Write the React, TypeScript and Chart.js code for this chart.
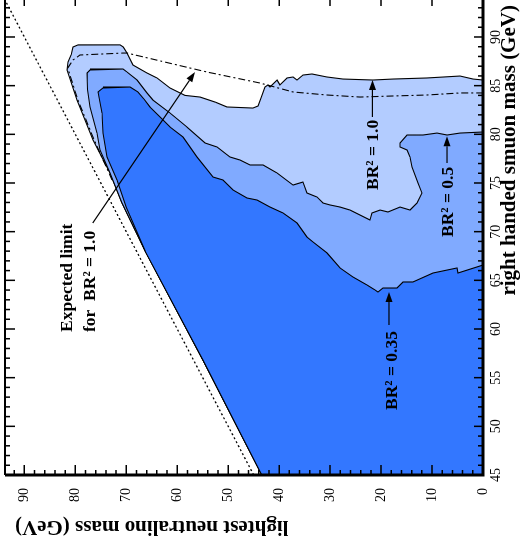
import React, { useEffect, useRef } from "react";
import { Chart, registerables } from "chart.js";

Chart.register(...registerables);

// Axis ticks (labels)
const smuonTickLabels = [45, 50, 55, 60, 65, 70, 75, 80, 85, 90];
const neutralinoTickLabels = [0, 10, 20, 30, 40, 50, 60, 70, 80, 90];
const smuonRange = [45, 93.8];
const neutralinoRange = [0, 93.8];

// Regions: [right handed smuon mass, lightest neutralino mass] (GeV)
const lightRegion: [number, number][] = [
  [45, 0], [45, 43.4], [56.8, 54.95], [68, 66.3], [73, 70.9], [76.03, 73.19], [79.42, 76.53],
  [83.52, 79.67], [86.61, 81.63], [87.43, 81.44], [88.2, 80.8], [88.97, 80.46],
  [89.18, 79.5], [89.2, 75.2], [89.18, 71.23], [88.97, 70.6], [88.35, 69.86],
  [87.12, 68.68], [86.3, 65.93], [85.79, 63.97], [84.76, 61.42], [84.0, 58.5],
  [83.83, 55.53], [83.3, 52.5], [82.81, 50.24], [82.7, 45.13], [82.91, 44.15],
  [83.73, 43.56], [84.86, 42.78], [85.07, 42.19], [84.86, 41.8], [85.58, 40.42],
  [85.07, 39.84], [85.79, 38.46], [85.89, 37.28], [85.58, 36.5], [86.09, 35.32],
  [86.2, 33.56], [85.89, 30.61], [85.68, 27.47], [85.58, 21.59], [85.68, 17.66],
  [85.79, 10.99], [85.99, 4.51], [85.68, 1.96], [85.58, 0],
];

const mediumRegion: [number, number][] = [
  [45, 0], [45, 43.4], [56.8, 54.95], [68, 66.3], [73, 70.9], [76.03, 73.19], [78.39, 75.16],
  [80.13, 75.75], [82.81, 77.12], [84.6, 77.6], [86.3, 77.71], [86.61, 77.12],
  [86.71, 75.16], [86.71, 70.64], [86.4, 69.86], [85.58, 67.9], [84.25, 65.93],
  [83.52, 64.76], [82.19, 61.42], [80.75, 58.09], [79.11, 54.55], [78.7, 52.2],
  [77.67, 49.65], [77.36, 47.68], [76.85, 45.72], [76.85, 43.17], [76.03, 40.42],
  [74.79, 37.28], [75.1, 35.32], [73.97, 34.54], [73.56, 32.57], [72.94, 31.4],
  [72.74, 30.02], [72.53, 28.06], [72.22, 26.1], [71.2, 22.17], [71.92, 21.78],
  [72.22, 20.21], [72.02, 18.64], [72.53, 16.29], [72.22, 14.33], [72.94, 12.95],
  [73.97, 11.97], [75.0, 12.76], [76.64, 13.93], [77.67, 14.33], [78.39, 14.91],
  [78.7, 16.29], [79.11, 16.29], [79.93, 14.91], [79.93, 11.77], [80.13, 9.03],
  [79.93, 7.06], [80.13, 4.51], [80.24, 0],
];

const darkRegion: [number, number][] = [
  [45, 0], [45, 43.4], [56.8, 54.95], [68, 66.3], [72.5, 70.0], [75.31, 71.82], [77.67, 73.78],
  [80.13, 74.57], [82.19, 74.76], [84.35, 75.55], [84.76, 74.57], [84.86, 72.0],
  [84.86, 69.27], [84.35, 67.7], [83.6, 66.5], [82.81, 65.35], [81.47, 62.79],
  [80.75, 61.42], [79.72, 58.87], [77.67, 56.12], [75.61, 52.98], [75.31, 51.02],
  [74.28, 49.06], [73.46, 46.31], [73.25, 44.35], [72.53, 41.8], [71.92, 39.25],
  [70.89, 36.5], [69.45, 34.54], [68.94, 33.36], [67.81, 30.61], [66.27, 28.06],
  [65.34, 25.51], [64.52, 22.76], [64.01, 21.19], [63.8, 20.6], [64.21, 19.62],
  [64.21, 18.25], [64.21, 16.88], [64.83, 15.7], [64.83, 13.74], [65.75, 9.81],
  [66.27, 5.1], [65.75, 4.91], [66.57, 0],
];

const expectedLimit: [number, number][] = [
  [75.31, 72.8], [79.42, 76.3], [83.52, 79.5], [86.81, 81.5], [87.63, 80.46],
  [88.15, 79.08], [88.35, 70.64], [88.35, 69.86], [86.4, 54.16], [85.27, 43.76],
  [84.35, 37.28], [84.04, 30.61], [83.83, 24.14], [83.94, 17.66], [84.04, 10.99],
  [84.25, 4.51], [84.25, 0],
];

const kinematicLimit: [number, number][] = [
  [45, 45], [93.8, 93.8],
];

// Annotations (data coordinates)
const annotationTexts = [
  { text: "Expected limit", s: 59.69, n: 80.65 },
  { text: "for  BR\u00b2 = 1.0", s: 59.69, n: 76.14 },
  { text: "BR\u00b2 = 1.0", s: 74.28, n: 20.6 },
  { text: "BR\u00b2 = 0.5", s: 69.45, n: 5.89 },
  { text: "BR\u00b2 = 0.35", s: 51.68, n: 16.9 },
];
const annotationArrows = [
  { from: [70.89, 76.6], to: [86.4, 56.5] },
  { from: [81.78, 21.7], to: [85.58, 21.7] },
  { from: [77.05, 7.06], to: [79.8, 7.06] },
  { from: [60.41, 18.45], to: [63.8, 18.45] },
];

const smuonTitle = "right handed smuon mass (GeV)";
const neutralinoTitle = "lightest neutralino mass (GeV)";

const SERIF = '"Liberation Serif", "Times New Roman", serif';

const toXY = (arr: [number, number][]) => arr.map(([x, y]) => ({ x, y }));

const decorPlugin = {
  id: "decor",
  afterDraw(chart: any) {
    const { ctx, chartArea: a, scales } = chart;
    const x = scales.x;
    const y = scales.y;
    ctx.save();
    ctx.strokeStyle = "#000";
    ctx.fillStyle = "#000";

    // ticks
    ctx.lineWidth = 1.5;
    ctx.beginPath();
    for (let v = 45; v <= 93; v += 1) {
      const px = x.getPixelForValue(v);
      const major = v % 5 === 0;
      ctx.moveTo(px, a.bottom);
      ctx.lineTo(px, a.bottom - (major ? 9 : 5));
      ctx.moveTo(px, a.top);
      ctx.lineTo(px, a.top + (major ? 10 : 5));
    }
    for (let v = 0; v <= 92; v += 2) {
      const py = y.getPixelForValue(v);
      const major = v % 10 === 0;
      ctx.moveTo(a.left, py);
      ctx.lineTo(a.left + (major ? 10 : 5), py);
      if (major) {
        ctx.moveTo(a.right, py);
        ctx.lineTo(a.right - 6, py);
      }
    }
    ctx.stroke();

    // frame
    ctx.lineWidth = 3;
    ctx.beginPath();
    ctx.moveTo(a.left, a.top);
    ctx.lineTo(a.left, a.bottom);
    ctx.lineTo(a.right, a.bottom);
    ctx.stroke();
    ctx.lineWidth = 2;
    ctx.beginPath();
    ctx.moveTo(a.left, a.top);
    ctx.lineTo(a.right, a.top);
    ctx.stroke();

    // annotations text
    ctx.font = `bold 17.5px ${SERIF}`;
    ctx.textAlign = "left";
    ctx.textBaseline = "alphabetic";
    for (const t of annotationTexts) {
      ctx.fillText(t.text, x.getPixelForValue(t.s), y.getPixelForValue(t.n));
    }

    // arrows
    ctx.lineWidth = 1.2;
    for (const ar of annotationArrows) {
      const x1 = x.getPixelForValue(ar.from[0]);
      const y1 = y.getPixelForValue(ar.from[1]);
      const x2 = x.getPixelForValue(ar.to[0]);
      const y2 = y.getPixelForValue(ar.to[1]);
      const ang = Math.atan2(y2 - y1, x2 - x1);
      const hl = 10;
      const hw = 3.5;
      const bx = x2 - hl * Math.cos(ang);
      const by = y2 - hl * Math.sin(ang);
      ctx.beginPath();
      ctx.moveTo(x1, y1);
      ctx.lineTo(bx, by);
      ctx.stroke();
      ctx.beginPath();
      ctx.moveTo(x2, y2);
      ctx.lineTo(bx + hw * Math.sin(ang), by - hw * Math.cos(ang));
      ctx.lineTo(bx - hw * Math.sin(ang), by + hw * Math.cos(ang));
      ctx.closePath();
      ctx.fill();
    }

    // axis titles
    ctx.font = `bold 21px ${SERIF}`;
    ctx.textAlign = "right";
    ctx.textBaseline = "alphabetic";
    ctx.fillText(smuonTitle, x.getPixelForValue(93.28), a.bottom + 32);

    ctx.save();
    ctx.translate(a.left - 46, y.getPixelForValue(91.84));
    ctx.rotate(-Math.PI / 2);
    ctx.textAlign = "right";
    ctx.fillText(neutralinoTitle, 0, 0);
    ctx.restore();

    ctx.restore();
  },
};

export default function App() {
  const ref = useRef<HTMLCanvasElement | null>(null);

  useEffect(() => {
    if (!ref.current) return;
    const tickFont = { family: SERIF, size: 14 };
    const regionStyle = {
      fill: "shape" as any,
      borderColor: "#000",
      borderWidth: 1.1,
      pointRadius: 0,
      tension: 0,
    };
    const chart = new Chart(ref.current, {
      type: "line",
      data: {
        datasets: [
          {
            label: "Expected limit BR2=1.0",
            data: toXY(expectedLimit),
            borderColor: "#000",
            borderWidth: 1.1,
            borderDash: [7, 3, 2, 3],
            pointRadius: 0,
            fill: false,
            order: 1,
          },
          {
            label: "Kinematic limit",
            data: toXY(kinematicLimit),
            borderColor: "#000",
            borderWidth: 1.3,
            borderDash: [2, 2.5],
            pointRadius: 0,
            fill: false,
            order: 2,
          },
          { label: "BR2 = 0.35", data: toXY(darkRegion), backgroundColor: "#3377ff", ...regionStyle, order: 3 },
          { label: "BR2 = 0.5", data: toXY(mediumRegion), backgroundColor: "#80aaff", ...regionStyle, order: 4 },
          { label: "BR2 = 1.0", data: toXY(lightRegion), backgroundColor: "#b3ccff", ...regionStyle, order: 5 },
        ] as any,
      },
      options: {
        animation: false,
        responsive: false,
        maintainAspectRatio: false,
        layout: { padding: { top: 5, left: 0, right: 0, bottom: 0 } },
        plugins: {
          legend: { display: false },
          tooltip: { enabled: false },
          title: { display: false },
        },
        scales: {
          x: {
            type: "linear",
            position: "bottom",
            min: smuonRange[0],
            max: smuonRange[1],
            grid: { display: false, drawTicks: false },
            border: { display: false },
            ticks: { font: tickFont, color: "#000", padding: 5, maxRotation: 0, autoSkip: false },
            afterBuildTicks: (s: any) => {
              s.ticks = smuonTickLabels.map((v) => ({ value: v }));
            },
            afterFit: (s: any) => {
              s.height = 38;
              s.paddingLeft = 0;
              s.paddingRight = 0;
            },
          },
          y: {
            type: "linear",
            position: "left",
            min: neutralinoRange[0],
            max: neutralinoRange[1],
            grid: { display: false, drawTicks: false },
            border: { display: false },
            ticks: { font: tickFont, color: "#000", padding: 13, autoSkip: false },
            afterBuildTicks: (s: any) => {
              s.ticks = neutralinoTickLabels.map((v) => ({ value: v }));
            },
            afterFit: (s: any) => {
              s.width = 70;
              s.paddingTop = 0;
              s.paddingBottom = 0;
            },
          },
        },
      } as any,
      plugins: [decorPlugin],
    });
    return () => chart.destroy();
  }, []);

  return (
    <div
      style={{
        position: "fixed",
        left: 0,
        top: 0,
        width: 521,
        height: 545,
        overflow: "hidden",
        background: "#fff",
      }}
    >
      <div
        style={{
          position: "absolute",
          left: 0,
          top: 0,
          width: 545,
          height: 521,
          transformOrigin: "0 0",
          transform: "translateY(545px) rotate(-90deg)",
        }}
      >
        <canvas ref={ref} width={545} height={521} style={{ display: "block", width: 545, height: 521 }} />
      </div>
    </div>
  );
}
